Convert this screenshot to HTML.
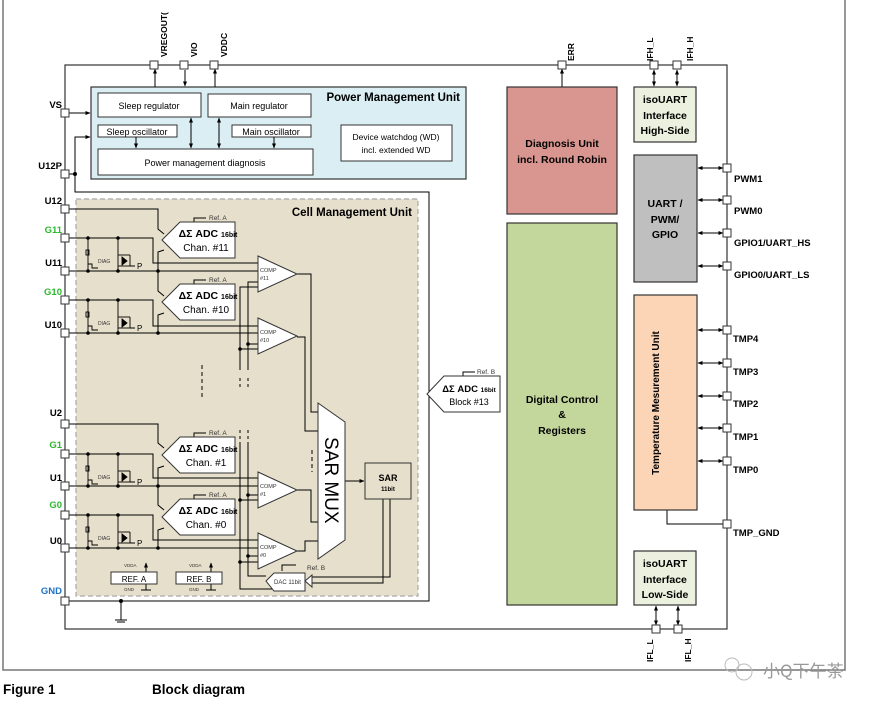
<!DOCTYPE html>
<html><head><meta charset="utf-8"><style>
html,body{margin:0;padding:0;background:#fff;}
svg{display:block;font-family:"Liberation Sans",Arial,sans-serif;}
.b{font-weight:bold}
</style></head><body>
<svg width="896" height="712" viewBox="0 0 896 712" xmlns="http://www.w3.org/2000/svg">
<defs>
<marker id="a" viewBox="0 0 10 10" refX="9" refY="5" markerWidth="5" markerHeight="5" orient="auto-start-reverse"><path d="M0,1 L10,5 L0,9 z" fill="#000"/></marker>
</defs>
<path d="M3,0 V670 H845 V0" fill="none" stroke="#777" stroke-width="1.5"/>
<rect x="65" y="65" width="662" height="564" fill="#fff" stroke="#333" stroke-width="1.2"/>

<rect x="91" y="87" width="375" height="92" fill="#dbeef3" stroke="#333" stroke-width="1.2"/>
<text x="460" y="101" font-size="11.5" class="b" text-anchor="end">Power Management Unit</text>
<rect x="98" y="93" width="103" height="24" fill="#fff" stroke="#333"/>
<text x="149" y="109" font-size="9" text-anchor="middle">Sleep  regulator</text>
<rect x="208" y="94" width="103" height="23" fill="#fff" stroke="#333"/>
<text x="259" y="109" font-size="9" text-anchor="middle">Main regulator</text>
<rect x="98" y="125" width="79" height="12" fill="#fff" stroke="#333"/>
<text x="137" y="135" font-size="9" text-anchor="middle">Sleep oscillator</text>
<rect x="232" y="125" width="79" height="12" fill="#fff" stroke="#333"/>
<text x="271" y="135" font-size="9" text-anchor="middle">Main oscillator</text>
<rect x="98" y="149" width="215" height="26" fill="#fff" stroke="#333"/>
<text x="205" y="166" font-size="9" text-anchor="middle">Power management diagnosis</text>
<rect x="341" y="125" width="111" height="36" fill="#fff" stroke="#333"/>
<text x="396" y="140" font-size="8.5" text-anchor="middle">Device watchdog (WD)</text>
<text x="396" y="153" font-size="8.5" text-anchor="middle">incl. extended WD</text>
<g stroke="#000" fill="none">
<line x1="136" y1="137" x2="136" y2="148" marker-end="url(#a)"/>
<line x1="274" y1="137" x2="274" y2="148" marker-end="url(#a)"/>
<line x1="191" y1="118" x2="191" y2="148" marker-end="url(#a)" marker-start="url(#a)"/>
<line x1="219" y1="118" x2="219" y2="148" marker-end="url(#a)" marker-start="url(#a)"/>
<line x1="155" y1="87" x2="155" y2="69" marker-end="url(#a)"/>
<line x1="185" y1="70" x2="185" y2="86" marker-end="url(#a)"/>
<line x1="215" y1="87" x2="215" y2="69" marker-end="url(#a)"/>
<line x1="69" y1="113" x2="90" y2="113" marker-end="url(#a)"/>
<polyline points="75,174 75,137 90,137" marker-end="url(#a)"/>
<polyline points="69,174 75,174 75,192 429,192 429,601 69,601"/>
<line x1="562" y1="87" x2="562" y2="69" marker-end="url(#a)"/>
<line x1="654" y1="70" x2="654" y2="86" marker-end="url(#a)" marker-start="url(#a)"/>
<line x1="677" y1="70" x2="677" y2="86" marker-end="url(#a)" marker-start="url(#a)"/>
<line x1="656" y1="606" x2="656" y2="625" marker-end="url(#a)" marker-start="url(#a)"/>
<line x1="678" y1="606" x2="678" y2="625" marker-end="url(#a)" marker-start="url(#a)"/>
<g>
<line x1="698" y1="168" x2="723" y2="168" marker-end="url(#a)" marker-start="url(#a)"/>
<line x1="698" y1="200" x2="723" y2="200" marker-end="url(#a)" marker-start="url(#a)"/>
<line x1="698" y1="233" x2="723" y2="233" marker-end="url(#a)" marker-start="url(#a)"/>
<line x1="698" y1="266" x2="723" y2="266" marker-end="url(#a)" marker-start="url(#a)"/>
<line x1="698" y1="330" x2="723" y2="330" marker-end="url(#a)" marker-start="url(#a)"/>
<line x1="698" y1="363" x2="723" y2="363" marker-end="url(#a)" marker-start="url(#a)"/>
<line x1="698" y1="396" x2="723" y2="396" marker-end="url(#a)" marker-start="url(#a)"/>
<line x1="698" y1="428" x2="723" y2="428" marker-end="url(#a)" marker-start="url(#a)"/>
<line x1="698" y1="461" x2="723" y2="461" marker-end="url(#a)" marker-start="url(#a)"/>
</g>
<polyline points="667,510 667,524 723,524"/>
<line x1="121" y1="601" x2="121" y2="620"/>
<line x1="115" y1="620" x2="127" y2="620"/><line x1="117" y1="622" x2="125" y2="622"/>
</g>
<circle cx="75" cy="174" r="2"/><circle cx="121" cy="601" r="2"/>

<rect x="76" y="199" width="342" height="397" fill="#e6dfcb" stroke="#aaa" stroke-width="1.2" stroke-dasharray="5,3"/>
<text x="412" y="216" font-size="11.5" class="b" text-anchor="end">Cell Management Unit</text>

<g stroke="#000" fill="none" stroke-width="1">
<polyline points="69,209 158,209 158,229 164,234"/>
<polyline points="69,424 158,424 158,443 164,448"/>
<polyline points="69,238 153,238 153,263 258,263"/>
<line x1="69" y1="271" x2="258" y2="271"/>
<polyline points="158,271 158,252 164,250"/>
<polyline points="158,271 158,291 164,296"/>
<polyline points="69,300 153,300 153,326 258,326"/>
<line x1="69" y1="333" x2="258" y2="333"/>
<polyline points="158,333 158,315 164,313"/>
<polyline points="69,454 153,454 153,478 258,478"/>
<line x1="69" y1="486" x2="258" y2="486"/>
<polyline points="158,486 158,468 164,466"/>
<polyline points="158,486 158,505 164,510"/>
<polyline points="69,515 153,515 153,540 258,540"/>
<line x1="69" y1="548" x2="258" y2="548"/>
<polyline points="158,548 158,530 164,528"/>
<polyline points="258,282 248,282 248,370"/>
<polyline points="258,287 240,287 240,370"/>
<line x1="248" y1="378" x2="248" y2="390" stroke-dasharray="3,3"/>
<line x1="240" y1="378" x2="240" y2="390" stroke-dasharray="3,3"/>
<line x1="248" y1="430" x2="248" y2="444" stroke-dasharray="3,3"/>
<line x1="240" y1="430" x2="240" y2="444" stroke-dasharray="3,3"/>
<line x1="248" y1="344" x2="258" y2="344"/><line x1="240" y1="349" x2="258" y2="349"/>
<polyline points="248,444 248,576 266,576"/>
<polyline points="240,444 240,589 273,589"/>
<line x1="248" y1="495" x2="258" y2="495"/><line x1="240" y1="500" x2="258" y2="500"/>
<line x1="248" y1="556" x2="258" y2="556"/><line x1="240" y1="562" x2="258" y2="562"/>
<line x1="202" y1="365" x2="202" y2="397" stroke-dasharray="4,3"/>
<line x1="312" y1="450" x2="312" y2="472" stroke-dasharray="4,3"/>
<polyline points="297,274 311,274 311,412 318,412"/>
<polyline points="297,337 305,337 305,431 318,431"/>
<polyline points="297,490 311,490 311,522 318,522"/>
<polyline points="297,551 305,551 305,541 318,541"/>
<line x1="345" y1="481" x2="364" y2="481" marker-end="url(#a)"/>
<polyline points="390,499 390,577 312,577"/>
<polyline points="383,499 383,583 312,583"/>
<polyline points="282,571 282,565 296,565"/>
<polyline points="194,222 194,218 206,218"/>
<polyline points="194,284 194,280 206,280"/>
<polyline points="194,437 194,433 206,433"/>
<polyline points="194,499 194,495 206,495"/>
<polyline points="463,376 463,372 475,372"/>
<line x1="146" y1="572" x2="146" y2="563" marker-end="url(#a)"/>
<line x1="211" y1="572" x2="211" y2="563" marker-end="url(#a)"/>
<polyline points="146,584 146,590"/><line x1="141" y1="590" x2="151" y2="590"/>
<polyline points="211,584 211,590"/><line x1="206" y1="590" x2="216" y2="590"/>
</g>
<g stroke="#000" fill="none" stroke-width="0.9">
<g id="sw">
<line x1="88" y1="238" x2="88" y2="271"/><line x1="118" y1="238" x2="118" y2="271"/>
<rect x="86" y="250" width="3" height="5"/>
<polyline points="88,264 92,264 92,268 98,268"/>
<polygon points="122,257 127,261 122,265" fill="#000"/>
<line x1="118" y1="255" x2="130" y2="255"/><line x1="118" y1="266" x2="130" y2="266"/>
<polyline points="130,255 130,266 135,266"/>
</g>
<use href="#sw" y="62"/><use href="#sw" y="216"/><use href="#sw" y="277"/>
</g>
<g fill="#000">
<circle cx="88" cy="238" r="1.8"/><circle cx="118" cy="238" r="1.8"/><circle cx="88" cy="271" r="1.8"/><circle cx="118" cy="271" r="1.8"/><circle cx="158" cy="271" r="1.8"/>
<circle cx="88" cy="300" r="1.8"/><circle cx="118" cy="300" r="1.8"/><circle cx="88" cy="333" r="1.8"/><circle cx="118" cy="333" r="1.8"/><circle cx="158" cy="333" r="1.8"/>
<circle cx="88" cy="454" r="1.8"/><circle cx="118" cy="454" r="1.8"/><circle cx="88" cy="486" r="1.8"/><circle cx="118" cy="486" r="1.8"/><circle cx="158" cy="486" r="1.8"/>
<circle cx="88" cy="515" r="1.8"/><circle cx="118" cy="515" r="1.8"/><circle cx="88" cy="548" r="1.8"/><circle cx="118" cy="548" r="1.8"/><circle cx="158" cy="548" r="1.8"/>
<circle cx="248" cy="344" r="1.8"/><circle cx="240" cy="349" r="1.8"/>
<circle cx="248" cy="495" r="1.8"/><circle cx="240" cy="500" r="1.8"/>
<circle cx="248" cy="556" r="1.8"/><circle cx="240" cy="562" r="1.8"/>
</g>
<g font-size="5" fill="#333">
<text x="98" y="263">DIAG</text><text x="98" y="325">DIAG</text><text x="98" y="479">DIAG</text><text x="98" y="540">DIAG</text>
</g>
<g font-size="8">
<text x="137" y="269">P</text><text x="137" y="331">P</text><text x="137" y="485">P</text><text x="137" y="546">P</text>
</g>

<g stroke="#333" fill="#fff" stroke-width="1">
<polygon points="162,240 180,222 235,222 235,258 180,258"/>
<polygon points="162,302 180,284 235,284 235,320 180,320"/>
<polygon points="162,455 180,437 235,437 235,473 180,473"/>
<polygon points="162,517 180,499 235,499 235,535 180,535"/>
<polygon points="427,394 444,376 500,376 500,412 444,412"/>
<polygon points="258,256 297,274 258,292"/>
<polygon points="258,318 297,336 258,354"/>
<polygon points="258,472 297,490 258,508"/>
<polygon points="258,533 297,551 258,569"/>
<polygon points="318,403 345,422 345,540 318,559"/>
<rect x="365" y="463" width="46" height="36" fill="#e6dfcb"/>
<polygon points="266,581 274,573 305,573 305,591 274,591"/>
<polygon points="305,581 312,575 312,587"/>
<rect x="111" y="572" width="46" height="12"/>
<rect x="176" y="572" width="46" height="12"/>
</g>
<g font-size="10.5" class="b" text-anchor="middle">
<text x="208" y="237">ΔΣ ADC <tspan font-size="7">16bit</tspan></text>
<text x="208" y="299">ΔΣ ADC <tspan font-size="7">16bit</tspan></text>
<text x="208" y="452">ΔΣ ADC <tspan font-size="7">16bit</tspan></text>
<text x="208" y="514">ΔΣ ADC <tspan font-size="7">16bit</tspan></text>
<text x="469" y="392" font-size="9.5">ΔΣ ADC <tspan font-size="6.5">16bit</tspan></text>
</g>
<g font-size="10" text-anchor="middle">
<text x="206" y="251">Chan. #11</text><text x="206" y="313">Chan. #10</text>
<text x="206" y="466">Chan. #1</text><text x="206" y="528">Chan. #0</text>
<text x="469" y="405" font-size="9">Block #13</text>
</g>
<g font-size="6.5" fill="#333">
<text x="209" y="220">Ref. A</text><text x="209" y="282">Ref. A</text><text x="209" y="435">Ref. A</text><text x="209" y="497">Ref. A</text>
<text x="477" y="374">Ref. B</text><text x="307" y="570">Ref. B</text>
<text x="260" y="272" font-size="5.5">COMP</text><text x="260" y="280" font-size="5.5">#11</text>
<text x="260" y="334" font-size="5.5">COMP</text><text x="260" y="342" font-size="5.5">#10</text>
<text x="260" y="488" font-size="5.5">COMP</text><text x="260" y="496" font-size="5.5">#1</text>
<text x="260" y="549" font-size="5.5">COMP</text><text x="260" y="557" font-size="5.5">#0</text>
<text x="274" y="584" font-size="6">DAC 11bit</text>
<text x="124" y="567" font-size="4.5">VDDA</text><text x="189" y="567" font-size="4.5">VDDA</text>
<text x="124" y="591" font-size="4.5">GND</text><text x="189" y="591" font-size="4.5">GND</text>
</g>
<text x="134" y="582" font-size="8" text-anchor="middle">REF. A</text>
<text x="199" y="582" font-size="8" text-anchor="middle">REF. B</text>
<text x="388" y="481" font-size="9" class="b" text-anchor="middle">SAR</text>
<text x="388" y="491" font-size="6" class="b" text-anchor="middle">11bit</text>
<text x="0" y="0" font-size="19" transform="translate(325,437) rotate(90)">SAR MUX</text>

<g stroke="#333" stroke-width="1.2">
<rect x="507" y="87" width="110" height="127" fill="#d9958f"/>
<rect x="507" y="223" width="110" height="382" fill="#c3d69b"/>
<rect x="634" y="87" width="62" height="55" fill="#ebf1de"/>
<rect x="634" y="155" width="63" height="127" fill="#bfbfbf"/>
<rect x="634" y="295" width="63" height="215" fill="#fbd5b5"/>
<rect x="634" y="551" width="62" height="54" fill="#ebf1de"/>
</g>
<g font-size="10.5" class="b" text-anchor="middle">
<text x="562" y="147">Diagnosis Unit</text><text x="562" y="163">incl. Round Robin</text>
<text x="562" y="403">Digital Control</text><text x="562" y="418">&amp;</text><text x="562" y="434">Registers</text>
<text x="665" y="103">isoUART</text><text x="665" y="119">Interface</text><text x="665" y="134">High-Side</text>
<text x="665" y="207">UART /</text><text x="665" y="223">PWM/</text><text x="665" y="238">GPIO</text>
<text x="665" y="567">isoUART</text><text x="665" y="583">Interface</text><text x="665" y="598">Low-Side</text>
<text transform="translate(659,403) rotate(-90)" font-size="10">Temperature Mesurement Unit</text>
</g>

<g fill="#fff" stroke="#333" stroke-width="1">
<rect x="150" y="61" width="8" height="8"/><rect x="180" y="61" width="8" height="8"/><rect x="210" y="61" width="8" height="8"/>
<rect x="558" y="61" width="8" height="8"/><rect x="650" y="61" width="8" height="8"/><rect x="673" y="61" width="8" height="8"/>
<rect x="652" y="625" width="8" height="8"/><rect x="674" y="625" width="8" height="8"/>
<rect x="61" y="109" width="8" height="8"/><rect x="61" y="170" width="8" height="8"/><rect x="61" y="205" width="8" height="8"/>
<rect x="61" y="234" width="8" height="8"/><rect x="61" y="267" width="8" height="8"/><rect x="61" y="296" width="8" height="8"/>
<rect x="61" y="329" width="8" height="8"/><rect x="61" y="420" width="8" height="8"/><rect x="61" y="450" width="8" height="8"/>
<rect x="61" y="482" width="8" height="8"/><rect x="61" y="511" width="8" height="8"/><rect x="61" y="544" width="8" height="8"/>
<rect x="61" y="597" width="8" height="8"/>
<rect x="723" y="164" width="8" height="8"/><rect x="723" y="196" width="8" height="8"/><rect x="723" y="229" width="8" height="8"/>
<rect x="723" y="262" width="8" height="8"/><rect x="723" y="326" width="8" height="8"/><rect x="723" y="359" width="8" height="8"/>
<rect x="723" y="392" width="8" height="8"/><rect x="723" y="424" width="8" height="8"/><rect x="723" y="457" width="8" height="8"/>
<rect x="723" y="520" width="8" height="8"/>
</g>
<g font-size="9.5" class="b">
<g text-anchor="end">
<text x="62" y="108">VS</text><text x="62" y="169">U12P</text><text x="62" y="204">U12</text>
<text x="62" y="233" fill="#2eb82e">G11</text><text x="62" y="266">U11</text>
<text x="62" y="295" fill="#2eb82e">G10</text><text x="62" y="328">U10</text>
<text x="62" y="416">U2</text><text x="62" y="448" fill="#2eb82e">G1</text><text x="62" y="481">U1</text>
<text x="62" y="508" fill="#2eb82e">G0</text><text x="62" y="544">U0</text>
<text x="62" y="594" fill="#1e73c8">GND</text>
</g>
<text x="734" y="182">PWM1</text><text x="734" y="214">PWM0</text>
<text x="734" y="246">GPIO1/UART_HS</text><text x="734" y="278">GPIO0/UART_LS</text>
<text x="733" y="342">TMP4</text><text x="733" y="375">TMP3</text><text x="733" y="407">TMP2</text>
<text x="733" y="440">TMP1</text><text x="733" y="473">TMP0</text><text x="733" y="536">TMP_GND</text>
<g font-size="8.5">
<text transform="translate(167,57) rotate(-90)">VREGOUT(</text>
<text transform="translate(197,57) rotate(-90)">VIO</text>
<text transform="translate(227,57) rotate(-90)">VDDC</text>
<text transform="translate(574,61) rotate(-90)">ERR</text>
<text transform="translate(653,61) rotate(-90)">IFH_L</text>
<text transform="translate(693,61) rotate(-90)">IFH_H</text>
<text transform="translate(653,662) rotate(-90)">IFL_L</text>
<text transform="translate(691,662) rotate(-90)">IFL_H</text>
</g>
</g>

<text x="3" y="694" font-size="13.5" class="b">Figure 1</text>
<text x="152" y="694" font-size="13.5" class="b">Block diagram</text>
<g fill="none" stroke="#bbb"><circle cx="732" cy="665" r="7"/><circle cx="744" cy="672" r="8"/></g>
<text x="763" y="677" font-size="17" fill="#999" font-family="Noto Sans CJK SC, sans-serif">小Q下午茶</text>
</svg>
</body></html>
